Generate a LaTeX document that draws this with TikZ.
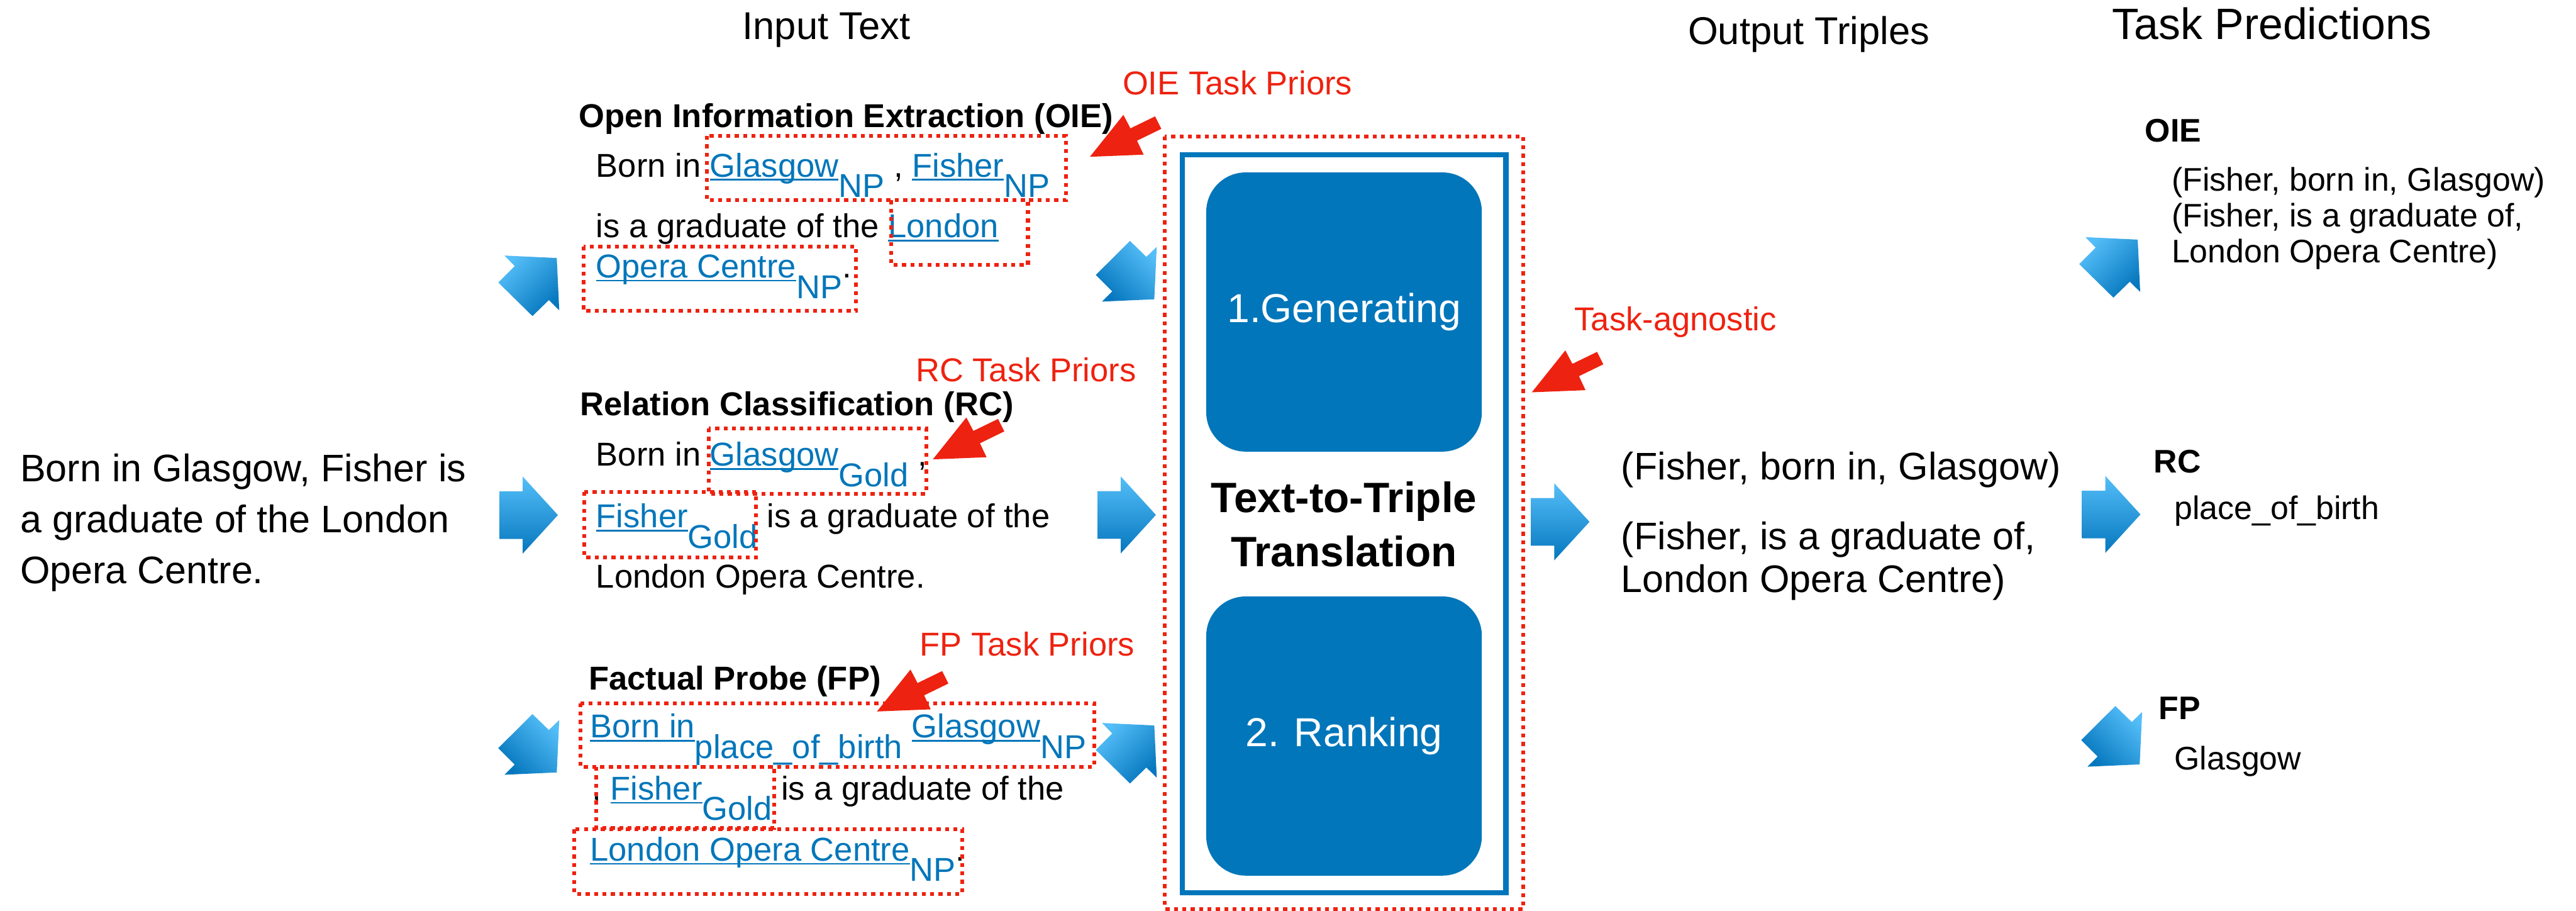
\documentclass[tikz,border=0pt]{standalone}
\usepackage{fontspec}
\setmainfont{Liberation Sans}
\definecolor{tblue}{RGB}{2,118,186}
\definecolor{lblue}{RGB}{84,190,248}
\definecolor{dblue}{RGB}{6,119,190}
\definecolor{tred}{RGB}{238,34,16}

% underlined span (rule sits just below the baseline, crossing descenders)
\newcommand\lnk[1]{{\setbox0\hbox{#1}\rlap{\rule[-1.3pt]{\wd0}{0.6pt}}\box0}}
% lowered tag of the same size
\newcommand\dn[1]{\raisebox{-7.1pt}{#1}}
\newcommand\bl[1]{\textcolor{tblue}{#1}}

% block arrows, given by their tip
\newcommand\arrowNE[1]{\shade[flowarrow, shading angle=45] (#1) -- +(1.5,31.8) -- +(-4.8,25.6) -- +(-14.8,35.3) -- +(-35.6,14.9) -- +(-25.6,4.9) -- +(-31.8,-1.5) -- cycle;}
\newcommand\arrowSE[1]{\shade[flowarrow, shading angle=-45] (#1) -- +(-31.8,1.4) -- +(-25.6,-4.8) -- +(-35.6,-14.8) -- +(-14.8,-35.5) -- +(-4.8,-25.8) -- +(1.5,-31.9) -- cycle;}
\newcommand\arrowE[1]{\shade[flowarrow] (#1) -- +(-21.4,23.4) -- +(-21.4,14.5) -- +(-35.6,14.5) -- +(-35.6,-14.5) -- +(-21.4,-14.5) -- +(-21.4,-23.4) -- cycle;}
\newcommand\cuearrow[1]{\fill[cue] (#1) -- +(20.4,-25.5) -- +(24.7,-17.3) -- +(39.7,-24.6) -- +(43.5,-17) -- +(28.7,-9.8) -- +(32.7,-1.3) -- cycle;}

\begin{document}
\begin{tikzpicture}[x=0.02cm, y=-0.02cm,
  txt/.style={anchor=base west, inner sep=0pt, font=\fontsize{11.45pt}{13pt}\selectfont},
  head/.style={txt, font=\fontsize{11.45pt}{13pt}\selectfont\bfseries},
  prior/.style={txt, text=tred},
  big/.style={anchor=base west, inner sep=0pt, font=\fontsize{13.3pt}{16pt}\selectfont},
  pred/.style={anchor=base west, inner sep=0pt, font=\fontsize{11.3pt}{13pt}\selectfont},
  predhead/.style={pred, font=\fontsize{11.3pt}{13pt}\selectfont\bfseries},
  colhead/.style={anchor=base, inner sep=0pt, font=\fontsize{13.4pt}{16pt}\selectfont},
  priorbox/.style={draw=tred, line width=1.31pt, dash pattern=on 1.37pt off 1.54pt},
  stage/.style={fill=tblue, rounded corners=0.48cm, minimum width=3.356cm, minimum height=3.398cm, text=white, font=\fontsize{14pt}{16pt}\selectfont, inner sep=0pt},
  flowarrow/.style={top color=lblue, bottom color=dblue},
  cue/.style={fill=tred}]
\useasboundingbox (0,0) rectangle (1568,554);

% column headings
\node[colhead] (hin) at (503,24) {Input Text};
\node[colhead] (hout) at (1101,27) {Output Triples};
\node[colhead, font=\fontsize{15.2pt}{18pt}\selectfont] (hpred) at (1383,24) {Task Predictions};

% source sentence
\node[big] (src1) at (12,293) {Born in Glasgow, Fisher is};
\node[big] (src2) at (12,324) {a graduate of the London};
\node[big] (src3) at (12,355) {Opera Centre.};

% OIE input
\node[head] (oieh) at (352,77.4) {Open Information Extraction (OIE)};
\node[txt] (oie1) at (362.5,107.6) {Born in \bl{\lnk{Glasgow}\dn{NP}} , \bl{\lnk{Fisher}\dn{NP}}};
\node[txt] (oie2) at (362.5,144.7) {is a graduate of the \bl{\lnk{London}}};
\node[txt] (oie3) at (362.5,169) {\bl{\lnk{Opera Centre}\dn{NP}}.};
\draw[priorbox] (430.4,82.7) rectangle (648.8,121.9);
\draw[priorbox] (542.3,121.9) rectangle (625.7,161.1);
\draw[priorbox] (355.2,150) rectangle (521.1,189.2);

% RC input
\node[head] (rch) at (352.8,252.7) {Relation Classification (RC)};
\node[txt] (rc1) at (362.5,283.5) {Born in \bl{\lnk{Glasgow}\dn{Gold}} ,};
\node[txt] (rc2) at (362.5,321.1) {\bl{\lnk{Fisher}\dn{Gold}} is a graduate of the};
\node[txt] (rc3) at (362.5,357.7) {London Opera Centre.};
\draw[priorbox] (431.6,260.7) rectangle (563.7,300.4);
\draw[priorbox] (355.7,299.4) rectangle (460.3,339.1);

% FP input
\node[head] (fph) at (358.1,419.7) {Factual Probe (FP)};
\node[txt] (fp1) at (358.9,448.9) {\bl{\lnk{Born in}\dn{place\_of\_birth} \lnk{Glasgow}\dn{NP}}};
\node[txt] (fp2) at (360,486.7) {, \bl{\lnk{Fisher}\dn{Gold}} is a graduate of the};
\node[txt] (fp3) at (358.9,523.8) {\bl{\lnk{London Opera Centre}\dn{NP}}.};
\draw[priorbox] (353.3,427.8) rectangle (665.9,466.6);
\draw[priorbox] (363,466.6) rectangle (471.3,503.8);
\draw[priorbox] (349.6,504.7) rectangle (585.6,543.8);

% task prior cues
\node[prior] (oiep) at (683,57.8) {OIE Task Priors};
\node[prior] (rcp) at (557.1,232.3) {RC Task Priors};
\node[prior] (fpp) at (559.5,398.9) {FP Task Priors};
\node[prior] (agn) at (958,201.1) {Task-agnostic};
\coordinate (cOIE) at (663.4,95.4);
\coordinate (cRC) at (567.8,279.5);
\coordinate (cFP) at (533.8,432.9);
\coordinate (cAgn) at (932.4,238.7);
\cuearrow{cOIE}
\cuearrow{cRC}
\cuearrow{cFP}
\cuearrow{cAgn}

% translation model
\draw[priorbox] (709.1,83) rectangle (927.3,553);
\draw[tblue, line width=1.82pt] (719.8,94.2) rectangle (916.6,543.3);
\node[stage] (gen) at (818.1,189.85) {1.Generating};
\node[stage] (rank) at (818.1,447.85) {2. Ranking};
\node[anchor=center, inner sep=0pt, align=center, font=\fontsize{14.7pt}{18.8pt}\selectfont\bfseries] (t2t) at (818.1,319) {Text-to-Triple\\Translation};

% flow arrows
\coordinate (aIn1) at (338.9,157);
\coordinate (aIn2) at (339.6,313.4);
\coordinate (aIn3) at (338.9,470);
\coordinate (aMid1) at (702.6,182.1);
\coordinate (aMid2) at (703.6,313.3);
\coordinate (aMid3) at (702.6,441.4);
\coordinate (aOut) at (967.5,317.5);
\coordinate (aPr1) at (1301.2,145.8);
\coordinate (aPr2) at (1302.9,313);
\coordinate (aPr3) at (1302.4,465.1);
\arrowNE{aIn1}
\arrowE{aIn2}
\arrowSE{aIn3}
\arrowSE{aMid1}
\arrowE{aMid2}
\arrowNE{aMid3}
\arrowE{aOut}
\arrowNE{aPr1}
\arrowE{aPr2}
\arrowSE{aPr3}

% output triples
\node[big] (tr1) at (986.5,292) {(Fisher, born in, Glasgow)};
\node[big] (tr2) at (986.5,334.5) {(Fisher, is a graduate of,};
\node[big] (tr3) at (986.5,360.5) {London Opera Centre)};

% task predictions
\node[predhead] (poie) at (1305.4,86.5) {OIE};
\node[pred] (poie1) at (1321.5,116.3) {(Fisher, born in, Glasgow)};
\node[pred] (poie2) at (1321.5,138.1) {(Fisher, is a graduate of,};
\node[pred] (poie3) at (1321.5,160) {London Opera Centre)};
\node[predhead] (prc) at (1310.6,287.7) {RC};
\node[pred] (prc1) at (1323.2,316.1) {place\_of\_birth};
\node[predhead] (pfp) at (1313.6,437.6) {FP};
\node[pred] (pfp1) at (1323.2,468.3) {Glasgow};
\end{tikzpicture}
\end{document}
